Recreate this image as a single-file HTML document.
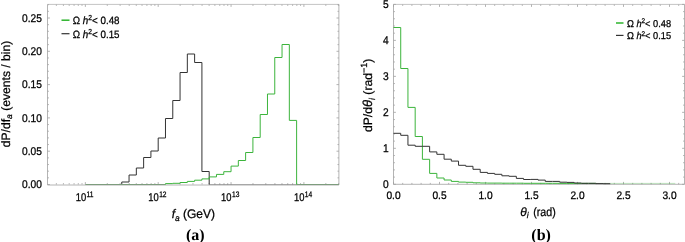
<!DOCTYPE html>
<html><head><meta charset="utf-8"><title>figure</title>
<style>
html,body{margin:0;padding:0;background:#fff;}
body{width:685px;height:242px;overflow:hidden;}
svg{display:block;will-change:transform;}
text{font-family:"Liberation Sans",sans-serif;fill:#000;text-rendering:geometricPrecision;stroke:#000;stroke-width:0.25px;}
text.serif{font-family:"Liberation Serif",serif;stroke:none;}
</style></head><body>
<svg width="685" height="242" viewBox="0 0 685 242">
<line x1="47.50" y1="4.40" x2="47.50" y2="185.00" stroke="#b4b4b4" stroke-width="1.0"/>
<line x1="47.50" y1="4.40" x2="338.90" y2="4.40" stroke="#c4c4c4" stroke-width="1.0"/>
<line x1="47.50" y1="185.00" x2="338.90" y2="185.00" stroke="#b4b4b4" stroke-width="1.0"/>
<line x1="338.90" y1="4.40" x2="338.90" y2="185.00" stroke="#b4b4b4" stroke-width="1.0"/>
<line x1="56.36" y1="184.50" x2="56.36" y2="183.10" stroke="#a0a0a0" stroke-width="0.8"/>
<line x1="56.36" y1="4.50" x2="56.36" y2="5.90" stroke="#a0a0a0" stroke-width="0.8"/>
<line x1="63.42" y1="184.50" x2="63.42" y2="183.10" stroke="#a0a0a0" stroke-width="0.8"/>
<line x1="63.42" y1="4.50" x2="63.42" y2="5.90" stroke="#a0a0a0" stroke-width="0.8"/>
<line x1="69.19" y1="184.50" x2="69.19" y2="183.10" stroke="#a0a0a0" stroke-width="0.8"/>
<line x1="69.19" y1="4.50" x2="69.19" y2="5.90" stroke="#a0a0a0" stroke-width="0.8"/>
<line x1="74.07" y1="184.50" x2="74.07" y2="183.10" stroke="#a0a0a0" stroke-width="0.8"/>
<line x1="74.07" y1="4.50" x2="74.07" y2="5.90" stroke="#a0a0a0" stroke-width="0.8"/>
<line x1="78.29" y1="184.50" x2="78.29" y2="183.10" stroke="#a0a0a0" stroke-width="0.8"/>
<line x1="78.29" y1="4.50" x2="78.29" y2="5.90" stroke="#a0a0a0" stroke-width="0.8"/>
<line x1="82.02" y1="184.50" x2="82.02" y2="183.10" stroke="#a0a0a0" stroke-width="0.8"/>
<line x1="82.02" y1="4.50" x2="82.02" y2="5.90" stroke="#a0a0a0" stroke-width="0.8"/>
<line x1="85.35" y1="184.50" x2="85.35" y2="182.10" stroke="#a0a0a0" stroke-width="0.8"/>
<line x1="85.35" y1="4.50" x2="85.35" y2="6.90" stroke="#a0a0a0" stroke-width="0.8"/>
<line x1="107.28" y1="184.50" x2="107.28" y2="183.10" stroke="#a0a0a0" stroke-width="0.8"/>
<line x1="107.28" y1="4.50" x2="107.28" y2="5.90" stroke="#a0a0a0" stroke-width="0.8"/>
<line x1="120.11" y1="184.50" x2="120.11" y2="183.10" stroke="#a0a0a0" stroke-width="0.8"/>
<line x1="120.11" y1="4.50" x2="120.11" y2="5.90" stroke="#a0a0a0" stroke-width="0.8"/>
<line x1="129.21" y1="184.50" x2="129.21" y2="183.10" stroke="#a0a0a0" stroke-width="0.8"/>
<line x1="129.21" y1="4.50" x2="129.21" y2="5.90" stroke="#a0a0a0" stroke-width="0.8"/>
<line x1="136.27" y1="184.50" x2="136.27" y2="183.10" stroke="#a0a0a0" stroke-width="0.8"/>
<line x1="136.27" y1="4.50" x2="136.27" y2="5.90" stroke="#a0a0a0" stroke-width="0.8"/>
<line x1="142.04" y1="184.50" x2="142.04" y2="183.10" stroke="#a0a0a0" stroke-width="0.8"/>
<line x1="142.04" y1="4.50" x2="142.04" y2="5.90" stroke="#a0a0a0" stroke-width="0.8"/>
<line x1="146.92" y1="184.50" x2="146.92" y2="183.10" stroke="#a0a0a0" stroke-width="0.8"/>
<line x1="146.92" y1="4.50" x2="146.92" y2="5.90" stroke="#a0a0a0" stroke-width="0.8"/>
<line x1="151.14" y1="184.50" x2="151.14" y2="183.10" stroke="#a0a0a0" stroke-width="0.8"/>
<line x1="151.14" y1="4.50" x2="151.14" y2="5.90" stroke="#a0a0a0" stroke-width="0.8"/>
<line x1="154.87" y1="184.50" x2="154.87" y2="183.10" stroke="#a0a0a0" stroke-width="0.8"/>
<line x1="154.87" y1="4.50" x2="154.87" y2="5.90" stroke="#a0a0a0" stroke-width="0.8"/>
<line x1="158.20" y1="184.50" x2="158.20" y2="182.10" stroke="#a0a0a0" stroke-width="0.8"/>
<line x1="158.20" y1="4.50" x2="158.20" y2="6.90" stroke="#a0a0a0" stroke-width="0.8"/>
<line x1="180.13" y1="184.50" x2="180.13" y2="183.10" stroke="#a0a0a0" stroke-width="0.8"/>
<line x1="180.13" y1="4.50" x2="180.13" y2="5.90" stroke="#a0a0a0" stroke-width="0.8"/>
<line x1="192.96" y1="184.50" x2="192.96" y2="183.10" stroke="#a0a0a0" stroke-width="0.8"/>
<line x1="192.96" y1="4.50" x2="192.96" y2="5.90" stroke="#a0a0a0" stroke-width="0.8"/>
<line x1="202.06" y1="184.50" x2="202.06" y2="183.10" stroke="#a0a0a0" stroke-width="0.8"/>
<line x1="202.06" y1="4.50" x2="202.06" y2="5.90" stroke="#a0a0a0" stroke-width="0.8"/>
<line x1="209.12" y1="184.50" x2="209.12" y2="183.10" stroke="#a0a0a0" stroke-width="0.8"/>
<line x1="209.12" y1="4.50" x2="209.12" y2="5.90" stroke="#a0a0a0" stroke-width="0.8"/>
<line x1="214.89" y1="184.50" x2="214.89" y2="183.10" stroke="#a0a0a0" stroke-width="0.8"/>
<line x1="214.89" y1="4.50" x2="214.89" y2="5.90" stroke="#a0a0a0" stroke-width="0.8"/>
<line x1="219.77" y1="184.50" x2="219.77" y2="183.10" stroke="#a0a0a0" stroke-width="0.8"/>
<line x1="219.77" y1="4.50" x2="219.77" y2="5.90" stroke="#a0a0a0" stroke-width="0.8"/>
<line x1="223.99" y1="184.50" x2="223.99" y2="183.10" stroke="#a0a0a0" stroke-width="0.8"/>
<line x1="223.99" y1="4.50" x2="223.99" y2="5.90" stroke="#a0a0a0" stroke-width="0.8"/>
<line x1="227.72" y1="184.50" x2="227.72" y2="183.10" stroke="#a0a0a0" stroke-width="0.8"/>
<line x1="227.72" y1="4.50" x2="227.72" y2="5.90" stroke="#a0a0a0" stroke-width="0.8"/>
<line x1="231.05" y1="184.50" x2="231.05" y2="182.10" stroke="#a0a0a0" stroke-width="0.8"/>
<line x1="231.05" y1="4.50" x2="231.05" y2="6.90" stroke="#a0a0a0" stroke-width="0.8"/>
<line x1="252.98" y1="184.50" x2="252.98" y2="183.10" stroke="#a0a0a0" stroke-width="0.8"/>
<line x1="252.98" y1="4.50" x2="252.98" y2="5.90" stroke="#a0a0a0" stroke-width="0.8"/>
<line x1="265.81" y1="184.50" x2="265.81" y2="183.10" stroke="#a0a0a0" stroke-width="0.8"/>
<line x1="265.81" y1="4.50" x2="265.81" y2="5.90" stroke="#a0a0a0" stroke-width="0.8"/>
<line x1="274.91" y1="184.50" x2="274.91" y2="183.10" stroke="#a0a0a0" stroke-width="0.8"/>
<line x1="274.91" y1="4.50" x2="274.91" y2="5.90" stroke="#a0a0a0" stroke-width="0.8"/>
<line x1="281.97" y1="184.50" x2="281.97" y2="183.10" stroke="#a0a0a0" stroke-width="0.8"/>
<line x1="281.97" y1="4.50" x2="281.97" y2="5.90" stroke="#a0a0a0" stroke-width="0.8"/>
<line x1="287.74" y1="184.50" x2="287.74" y2="183.10" stroke="#a0a0a0" stroke-width="0.8"/>
<line x1="287.74" y1="4.50" x2="287.74" y2="5.90" stroke="#a0a0a0" stroke-width="0.8"/>
<line x1="292.62" y1="184.50" x2="292.62" y2="183.10" stroke="#a0a0a0" stroke-width="0.8"/>
<line x1="292.62" y1="4.50" x2="292.62" y2="5.90" stroke="#a0a0a0" stroke-width="0.8"/>
<line x1="296.84" y1="184.50" x2="296.84" y2="183.10" stroke="#a0a0a0" stroke-width="0.8"/>
<line x1="296.84" y1="4.50" x2="296.84" y2="5.90" stroke="#a0a0a0" stroke-width="0.8"/>
<line x1="300.57" y1="184.50" x2="300.57" y2="183.10" stroke="#a0a0a0" stroke-width="0.8"/>
<line x1="300.57" y1="4.50" x2="300.57" y2="5.90" stroke="#a0a0a0" stroke-width="0.8"/>
<line x1="303.90" y1="184.50" x2="303.90" y2="182.10" stroke="#a0a0a0" stroke-width="0.8"/>
<line x1="303.90" y1="4.50" x2="303.90" y2="6.90" stroke="#a0a0a0" stroke-width="0.8"/>
<line x1="325.83" y1="184.50" x2="325.83" y2="183.10" stroke="#a0a0a0" stroke-width="0.8"/>
<line x1="325.83" y1="4.50" x2="325.83" y2="5.90" stroke="#a0a0a0" stroke-width="0.8"/>
<line x1="338.66" y1="184.50" x2="338.66" y2="183.10" stroke="#a0a0a0" stroke-width="0.8"/>
<line x1="338.66" y1="4.50" x2="338.66" y2="5.90" stroke="#a0a0a0" stroke-width="0.8"/>
<line x1="47.50" y1="184.50" x2="49.90" y2="184.50" stroke="#a0a0a0" stroke-width="0.8"/>
<line x1="338.90" y1="184.50" x2="336.50" y2="184.50" stroke="#a0a0a0" stroke-width="0.8"/>
<line x1="47.50" y1="177.84" x2="48.90" y2="177.84" stroke="#a0a0a0" stroke-width="0.8"/>
<line x1="338.90" y1="177.84" x2="337.50" y2="177.84" stroke="#a0a0a0" stroke-width="0.8"/>
<line x1="47.50" y1="171.18" x2="48.90" y2="171.18" stroke="#a0a0a0" stroke-width="0.8"/>
<line x1="338.90" y1="171.18" x2="337.50" y2="171.18" stroke="#a0a0a0" stroke-width="0.8"/>
<line x1="47.50" y1="164.52" x2="48.90" y2="164.52" stroke="#a0a0a0" stroke-width="0.8"/>
<line x1="338.90" y1="164.52" x2="337.50" y2="164.52" stroke="#a0a0a0" stroke-width="0.8"/>
<line x1="47.50" y1="157.86" x2="48.90" y2="157.86" stroke="#a0a0a0" stroke-width="0.8"/>
<line x1="338.90" y1="157.86" x2="337.50" y2="157.86" stroke="#a0a0a0" stroke-width="0.8"/>
<line x1="47.50" y1="151.20" x2="49.90" y2="151.20" stroke="#a0a0a0" stroke-width="0.8"/>
<line x1="338.90" y1="151.20" x2="336.50" y2="151.20" stroke="#a0a0a0" stroke-width="0.8"/>
<line x1="47.50" y1="144.54" x2="48.90" y2="144.54" stroke="#a0a0a0" stroke-width="0.8"/>
<line x1="338.90" y1="144.54" x2="337.50" y2="144.54" stroke="#a0a0a0" stroke-width="0.8"/>
<line x1="47.50" y1="137.88" x2="48.90" y2="137.88" stroke="#a0a0a0" stroke-width="0.8"/>
<line x1="338.90" y1="137.88" x2="337.50" y2="137.88" stroke="#a0a0a0" stroke-width="0.8"/>
<line x1="47.50" y1="131.22" x2="48.90" y2="131.22" stroke="#a0a0a0" stroke-width="0.8"/>
<line x1="338.90" y1="131.22" x2="337.50" y2="131.22" stroke="#a0a0a0" stroke-width="0.8"/>
<line x1="47.50" y1="124.56" x2="48.90" y2="124.56" stroke="#a0a0a0" stroke-width="0.8"/>
<line x1="338.90" y1="124.56" x2="337.50" y2="124.56" stroke="#a0a0a0" stroke-width="0.8"/>
<line x1="47.50" y1="117.90" x2="49.90" y2="117.90" stroke="#a0a0a0" stroke-width="0.8"/>
<line x1="338.90" y1="117.90" x2="336.50" y2="117.90" stroke="#a0a0a0" stroke-width="0.8"/>
<line x1="47.50" y1="111.24" x2="48.90" y2="111.24" stroke="#a0a0a0" stroke-width="0.8"/>
<line x1="338.90" y1="111.24" x2="337.50" y2="111.24" stroke="#a0a0a0" stroke-width="0.8"/>
<line x1="47.50" y1="104.58" x2="48.90" y2="104.58" stroke="#a0a0a0" stroke-width="0.8"/>
<line x1="338.90" y1="104.58" x2="337.50" y2="104.58" stroke="#a0a0a0" stroke-width="0.8"/>
<line x1="47.50" y1="97.92" x2="48.90" y2="97.92" stroke="#a0a0a0" stroke-width="0.8"/>
<line x1="338.90" y1="97.92" x2="337.50" y2="97.92" stroke="#a0a0a0" stroke-width="0.8"/>
<line x1="47.50" y1="91.26" x2="48.90" y2="91.26" stroke="#a0a0a0" stroke-width="0.8"/>
<line x1="338.90" y1="91.26" x2="337.50" y2="91.26" stroke="#a0a0a0" stroke-width="0.8"/>
<line x1="47.50" y1="84.60" x2="49.90" y2="84.60" stroke="#a0a0a0" stroke-width="0.8"/>
<line x1="338.90" y1="84.60" x2="336.50" y2="84.60" stroke="#a0a0a0" stroke-width="0.8"/>
<line x1="47.50" y1="77.94" x2="48.90" y2="77.94" stroke="#a0a0a0" stroke-width="0.8"/>
<line x1="338.90" y1="77.94" x2="337.50" y2="77.94" stroke="#a0a0a0" stroke-width="0.8"/>
<line x1="47.50" y1="71.28" x2="48.90" y2="71.28" stroke="#a0a0a0" stroke-width="0.8"/>
<line x1="338.90" y1="71.28" x2="337.50" y2="71.28" stroke="#a0a0a0" stroke-width="0.8"/>
<line x1="47.50" y1="64.62" x2="48.90" y2="64.62" stroke="#a0a0a0" stroke-width="0.8"/>
<line x1="338.90" y1="64.62" x2="337.50" y2="64.62" stroke="#a0a0a0" stroke-width="0.8"/>
<line x1="47.50" y1="57.96" x2="48.90" y2="57.96" stroke="#a0a0a0" stroke-width="0.8"/>
<line x1="338.90" y1="57.96" x2="337.50" y2="57.96" stroke="#a0a0a0" stroke-width="0.8"/>
<line x1="47.50" y1="51.30" x2="49.90" y2="51.30" stroke="#a0a0a0" stroke-width="0.8"/>
<line x1="338.90" y1="51.30" x2="336.50" y2="51.30" stroke="#a0a0a0" stroke-width="0.8"/>
<line x1="47.50" y1="44.64" x2="48.90" y2="44.64" stroke="#a0a0a0" stroke-width="0.8"/>
<line x1="338.90" y1="44.64" x2="337.50" y2="44.64" stroke="#a0a0a0" stroke-width="0.8"/>
<line x1="47.50" y1="37.98" x2="48.90" y2="37.98" stroke="#a0a0a0" stroke-width="0.8"/>
<line x1="338.90" y1="37.98" x2="337.50" y2="37.98" stroke="#a0a0a0" stroke-width="0.8"/>
<line x1="47.50" y1="31.32" x2="48.90" y2="31.32" stroke="#a0a0a0" stroke-width="0.8"/>
<line x1="338.90" y1="31.32" x2="337.50" y2="31.32" stroke="#a0a0a0" stroke-width="0.8"/>
<line x1="47.50" y1="24.66" x2="48.90" y2="24.66" stroke="#a0a0a0" stroke-width="0.8"/>
<line x1="338.90" y1="24.66" x2="337.50" y2="24.66" stroke="#a0a0a0" stroke-width="0.8"/>
<line x1="47.50" y1="18.00" x2="49.90" y2="18.00" stroke="#a0a0a0" stroke-width="0.8"/>
<line x1="338.90" y1="18.00" x2="336.50" y2="18.00" stroke="#a0a0a0" stroke-width="0.8"/>
<line x1="47.50" y1="11.34" x2="48.90" y2="11.34" stroke="#a0a0a0" stroke-width="0.8"/>
<line x1="338.90" y1="11.34" x2="337.50" y2="11.34" stroke="#a0a0a0" stroke-width="0.8"/>
<line x1="47.50" y1="4.68" x2="48.90" y2="4.68" stroke="#a0a0a0" stroke-width="0.8"/>
<line x1="338.90" y1="4.68" x2="337.50" y2="4.68" stroke="#a0a0a0" stroke-width="0.8"/>
<line x1="209.19" y1="184.5" x2="296.62" y2="184.5" stroke="#333333" stroke-width="1.0" stroke-opacity="0.3"/>
<path d="M121.77,184.50 L121.77,182.00 L129.06,182.00 L129.06,175.00 L136.34,175.00 L136.34,168.00 L143.63,168.00 L143.63,157.50 L150.92,157.50 L150.92,151.00 L158.20,151.00 L158.20,138.00 L165.48,138.00 L165.48,118.50 L172.77,118.50 L172.77,100.50 L180.06,100.50 L180.06,72.50 L187.34,72.50 L187.34,54.00 L194.62,54.00 L194.62,62.50 L201.91,62.50 L201.91,171.50 L209.19,171.50 L209.19,184.50" fill="none" stroke="#333333" stroke-width="1.0" stroke-linejoin="miter"/>
<line x1="85.35" y1="184.50" x2="165.48" y2="184.50" stroke="#7d9d7d" stroke-width="1.0"/>
<line x1="296.62" y1="184.50" x2="338.90" y2="184.50" stroke="#7d9d7d" stroke-width="1.0"/>
<path d="M165.48,184.50 L165.48,183.60 L172.77,183.60 L172.77,183.30 L180.06,183.30 L180.06,182.50 L187.34,182.50 L187.34,181.40 L194.62,181.40 L194.62,180.20 L201.91,180.20 L201.91,178.90 L209.19,178.90 L209.19,176.90 L216.48,176.90 L216.48,174.40 L223.77,174.40 L223.77,171.70 L231.05,171.70 L231.05,166.10 L238.33,166.10 L238.33,160.50 L245.62,160.50 L245.62,152.50 L252.91,152.50 L252.91,137.50 L260.19,137.50 L260.19,114.50 L267.48,114.50 L267.48,94.00 L274.76,94.00 L274.76,57.50 L282.04,57.50 L282.04,44.50 L289.33,44.50 L289.33,120.40 L296.62,120.40 L296.62,184.50" fill="none" stroke="#3cb43c" stroke-width="1.0" stroke-linejoin="miter"/>
<line x1="393.50" y1="4.40" x2="393.50" y2="184.30" stroke="#b4b4b4" stroke-width="1.0"/>
<line x1="393.50" y1="4.40" x2="684.50" y2="4.40" stroke="#c4c4c4" stroke-width="1.0"/>
<line x1="393.50" y1="184.30" x2="684.50" y2="184.30" stroke="#b4b4b4" stroke-width="1.0"/>
<line x1="684.50" y1="4.40" x2="684.50" y2="184.30" stroke="#b4b4b4" stroke-width="1.0"/>
<line x1="393.50" y1="184.30" x2="393.50" y2="181.90" stroke="#a0a0a0" stroke-width="0.8"/>
<line x1="393.50" y1="4.50" x2="393.50" y2="6.90" stroke="#a0a0a0" stroke-width="0.8"/>
<line x1="402.70" y1="184.30" x2="402.70" y2="182.90" stroke="#a0a0a0" stroke-width="0.8"/>
<line x1="402.70" y1="4.50" x2="402.70" y2="5.90" stroke="#a0a0a0" stroke-width="0.8"/>
<line x1="411.90" y1="184.30" x2="411.90" y2="182.90" stroke="#a0a0a0" stroke-width="0.8"/>
<line x1="411.90" y1="4.50" x2="411.90" y2="5.90" stroke="#a0a0a0" stroke-width="0.8"/>
<line x1="421.10" y1="184.30" x2="421.10" y2="182.90" stroke="#a0a0a0" stroke-width="0.8"/>
<line x1="421.10" y1="4.50" x2="421.10" y2="5.90" stroke="#a0a0a0" stroke-width="0.8"/>
<line x1="430.30" y1="184.30" x2="430.30" y2="182.90" stroke="#a0a0a0" stroke-width="0.8"/>
<line x1="430.30" y1="4.50" x2="430.30" y2="5.90" stroke="#a0a0a0" stroke-width="0.8"/>
<line x1="439.50" y1="184.30" x2="439.50" y2="181.90" stroke="#a0a0a0" stroke-width="0.8"/>
<line x1="439.50" y1="4.50" x2="439.50" y2="6.90" stroke="#a0a0a0" stroke-width="0.8"/>
<line x1="448.70" y1="184.30" x2="448.70" y2="182.90" stroke="#a0a0a0" stroke-width="0.8"/>
<line x1="448.70" y1="4.50" x2="448.70" y2="5.90" stroke="#a0a0a0" stroke-width="0.8"/>
<line x1="457.90" y1="184.30" x2="457.90" y2="182.90" stroke="#a0a0a0" stroke-width="0.8"/>
<line x1="457.90" y1="4.50" x2="457.90" y2="5.90" stroke="#a0a0a0" stroke-width="0.8"/>
<line x1="467.10" y1="184.30" x2="467.10" y2="182.90" stroke="#a0a0a0" stroke-width="0.8"/>
<line x1="467.10" y1="4.50" x2="467.10" y2="5.90" stroke="#a0a0a0" stroke-width="0.8"/>
<line x1="476.30" y1="184.30" x2="476.30" y2="182.90" stroke="#a0a0a0" stroke-width="0.8"/>
<line x1="476.30" y1="4.50" x2="476.30" y2="5.90" stroke="#a0a0a0" stroke-width="0.8"/>
<line x1="485.50" y1="184.30" x2="485.50" y2="181.90" stroke="#a0a0a0" stroke-width="0.8"/>
<line x1="485.50" y1="4.50" x2="485.50" y2="6.90" stroke="#a0a0a0" stroke-width="0.8"/>
<line x1="494.70" y1="184.30" x2="494.70" y2="182.90" stroke="#a0a0a0" stroke-width="0.8"/>
<line x1="494.70" y1="4.50" x2="494.70" y2="5.90" stroke="#a0a0a0" stroke-width="0.8"/>
<line x1="503.90" y1="184.30" x2="503.90" y2="182.90" stroke="#a0a0a0" stroke-width="0.8"/>
<line x1="503.90" y1="4.50" x2="503.90" y2="5.90" stroke="#a0a0a0" stroke-width="0.8"/>
<line x1="513.10" y1="184.30" x2="513.10" y2="182.90" stroke="#a0a0a0" stroke-width="0.8"/>
<line x1="513.10" y1="4.50" x2="513.10" y2="5.90" stroke="#a0a0a0" stroke-width="0.8"/>
<line x1="522.30" y1="184.30" x2="522.30" y2="182.90" stroke="#a0a0a0" stroke-width="0.8"/>
<line x1="522.30" y1="4.50" x2="522.30" y2="5.90" stroke="#a0a0a0" stroke-width="0.8"/>
<line x1="531.50" y1="184.30" x2="531.50" y2="181.90" stroke="#a0a0a0" stroke-width="0.8"/>
<line x1="531.50" y1="4.50" x2="531.50" y2="6.90" stroke="#a0a0a0" stroke-width="0.8"/>
<line x1="540.70" y1="184.30" x2="540.70" y2="182.90" stroke="#a0a0a0" stroke-width="0.8"/>
<line x1="540.70" y1="4.50" x2="540.70" y2="5.90" stroke="#a0a0a0" stroke-width="0.8"/>
<line x1="549.90" y1="184.30" x2="549.90" y2="182.90" stroke="#a0a0a0" stroke-width="0.8"/>
<line x1="549.90" y1="4.50" x2="549.90" y2="5.90" stroke="#a0a0a0" stroke-width="0.8"/>
<line x1="559.10" y1="184.30" x2="559.10" y2="182.90" stroke="#a0a0a0" stroke-width="0.8"/>
<line x1="559.10" y1="4.50" x2="559.10" y2="5.90" stroke="#a0a0a0" stroke-width="0.8"/>
<line x1="568.30" y1="184.30" x2="568.30" y2="182.90" stroke="#a0a0a0" stroke-width="0.8"/>
<line x1="568.30" y1="4.50" x2="568.30" y2="5.90" stroke="#a0a0a0" stroke-width="0.8"/>
<line x1="577.50" y1="184.30" x2="577.50" y2="181.90" stroke="#a0a0a0" stroke-width="0.8"/>
<line x1="577.50" y1="4.50" x2="577.50" y2="6.90" stroke="#a0a0a0" stroke-width="0.8"/>
<line x1="586.70" y1="184.30" x2="586.70" y2="182.90" stroke="#a0a0a0" stroke-width="0.8"/>
<line x1="586.70" y1="4.50" x2="586.70" y2="5.90" stroke="#a0a0a0" stroke-width="0.8"/>
<line x1="595.90" y1="184.30" x2="595.90" y2="182.90" stroke="#a0a0a0" stroke-width="0.8"/>
<line x1="595.90" y1="4.50" x2="595.90" y2="5.90" stroke="#a0a0a0" stroke-width="0.8"/>
<line x1="605.10" y1="184.30" x2="605.10" y2="182.90" stroke="#a0a0a0" stroke-width="0.8"/>
<line x1="605.10" y1="4.50" x2="605.10" y2="5.90" stroke="#a0a0a0" stroke-width="0.8"/>
<line x1="614.30" y1="184.30" x2="614.30" y2="182.90" stroke="#a0a0a0" stroke-width="0.8"/>
<line x1="614.30" y1="4.50" x2="614.30" y2="5.90" stroke="#a0a0a0" stroke-width="0.8"/>
<line x1="623.50" y1="184.30" x2="623.50" y2="181.90" stroke="#a0a0a0" stroke-width="0.8"/>
<line x1="623.50" y1="4.50" x2="623.50" y2="6.90" stroke="#a0a0a0" stroke-width="0.8"/>
<line x1="632.70" y1="184.30" x2="632.70" y2="182.90" stroke="#a0a0a0" stroke-width="0.8"/>
<line x1="632.70" y1="4.50" x2="632.70" y2="5.90" stroke="#a0a0a0" stroke-width="0.8"/>
<line x1="641.90" y1="184.30" x2="641.90" y2="182.90" stroke="#a0a0a0" stroke-width="0.8"/>
<line x1="641.90" y1="4.50" x2="641.90" y2="5.90" stroke="#a0a0a0" stroke-width="0.8"/>
<line x1="651.10" y1="184.30" x2="651.10" y2="182.90" stroke="#a0a0a0" stroke-width="0.8"/>
<line x1="651.10" y1="4.50" x2="651.10" y2="5.90" stroke="#a0a0a0" stroke-width="0.8"/>
<line x1="660.30" y1="184.30" x2="660.30" y2="182.90" stroke="#a0a0a0" stroke-width="0.8"/>
<line x1="660.30" y1="4.50" x2="660.30" y2="5.90" stroke="#a0a0a0" stroke-width="0.8"/>
<line x1="669.50" y1="184.30" x2="669.50" y2="181.90" stroke="#a0a0a0" stroke-width="0.8"/>
<line x1="669.50" y1="4.50" x2="669.50" y2="6.90" stroke="#a0a0a0" stroke-width="0.8"/>
<line x1="678.70" y1="184.30" x2="678.70" y2="182.90" stroke="#a0a0a0" stroke-width="0.8"/>
<line x1="678.70" y1="4.50" x2="678.70" y2="5.90" stroke="#a0a0a0" stroke-width="0.8"/>
<line x1="393.50" y1="184.30" x2="395.90" y2="184.30" stroke="#a0a0a0" stroke-width="0.8"/>
<line x1="684.50" y1="184.30" x2="682.10" y2="184.30" stroke="#a0a0a0" stroke-width="0.8"/>
<line x1="393.50" y1="177.10" x2="394.90" y2="177.10" stroke="#a0a0a0" stroke-width="0.8"/>
<line x1="684.50" y1="177.10" x2="683.10" y2="177.10" stroke="#a0a0a0" stroke-width="0.8"/>
<line x1="393.50" y1="169.91" x2="394.90" y2="169.91" stroke="#a0a0a0" stroke-width="0.8"/>
<line x1="684.50" y1="169.91" x2="683.10" y2="169.91" stroke="#a0a0a0" stroke-width="0.8"/>
<line x1="393.50" y1="162.71" x2="394.90" y2="162.71" stroke="#a0a0a0" stroke-width="0.8"/>
<line x1="684.50" y1="162.71" x2="683.10" y2="162.71" stroke="#a0a0a0" stroke-width="0.8"/>
<line x1="393.50" y1="155.52" x2="394.90" y2="155.52" stroke="#a0a0a0" stroke-width="0.8"/>
<line x1="684.50" y1="155.52" x2="683.10" y2="155.52" stroke="#a0a0a0" stroke-width="0.8"/>
<line x1="393.50" y1="148.32" x2="395.90" y2="148.32" stroke="#a0a0a0" stroke-width="0.8"/>
<line x1="684.50" y1="148.32" x2="682.10" y2="148.32" stroke="#a0a0a0" stroke-width="0.8"/>
<line x1="393.50" y1="141.12" x2="394.90" y2="141.12" stroke="#a0a0a0" stroke-width="0.8"/>
<line x1="684.50" y1="141.12" x2="683.10" y2="141.12" stroke="#a0a0a0" stroke-width="0.8"/>
<line x1="393.50" y1="133.93" x2="394.90" y2="133.93" stroke="#a0a0a0" stroke-width="0.8"/>
<line x1="684.50" y1="133.93" x2="683.10" y2="133.93" stroke="#a0a0a0" stroke-width="0.8"/>
<line x1="393.50" y1="126.73" x2="394.90" y2="126.73" stroke="#a0a0a0" stroke-width="0.8"/>
<line x1="684.50" y1="126.73" x2="683.10" y2="126.73" stroke="#a0a0a0" stroke-width="0.8"/>
<line x1="393.50" y1="119.54" x2="394.90" y2="119.54" stroke="#a0a0a0" stroke-width="0.8"/>
<line x1="684.50" y1="119.54" x2="683.10" y2="119.54" stroke="#a0a0a0" stroke-width="0.8"/>
<line x1="393.50" y1="112.34" x2="395.90" y2="112.34" stroke="#a0a0a0" stroke-width="0.8"/>
<line x1="684.50" y1="112.34" x2="682.10" y2="112.34" stroke="#a0a0a0" stroke-width="0.8"/>
<line x1="393.50" y1="105.14" x2="394.90" y2="105.14" stroke="#a0a0a0" stroke-width="0.8"/>
<line x1="684.50" y1="105.14" x2="683.10" y2="105.14" stroke="#a0a0a0" stroke-width="0.8"/>
<line x1="393.50" y1="97.95" x2="394.90" y2="97.95" stroke="#a0a0a0" stroke-width="0.8"/>
<line x1="684.50" y1="97.95" x2="683.10" y2="97.95" stroke="#a0a0a0" stroke-width="0.8"/>
<line x1="393.50" y1="90.75" x2="394.90" y2="90.75" stroke="#a0a0a0" stroke-width="0.8"/>
<line x1="684.50" y1="90.75" x2="683.10" y2="90.75" stroke="#a0a0a0" stroke-width="0.8"/>
<line x1="393.50" y1="83.56" x2="394.90" y2="83.56" stroke="#a0a0a0" stroke-width="0.8"/>
<line x1="684.50" y1="83.56" x2="683.10" y2="83.56" stroke="#a0a0a0" stroke-width="0.8"/>
<line x1="393.50" y1="76.36" x2="395.90" y2="76.36" stroke="#a0a0a0" stroke-width="0.8"/>
<line x1="684.50" y1="76.36" x2="682.10" y2="76.36" stroke="#a0a0a0" stroke-width="0.8"/>
<line x1="393.50" y1="69.16" x2="394.90" y2="69.16" stroke="#a0a0a0" stroke-width="0.8"/>
<line x1="684.50" y1="69.16" x2="683.10" y2="69.16" stroke="#a0a0a0" stroke-width="0.8"/>
<line x1="393.50" y1="61.97" x2="394.90" y2="61.97" stroke="#a0a0a0" stroke-width="0.8"/>
<line x1="684.50" y1="61.97" x2="683.10" y2="61.97" stroke="#a0a0a0" stroke-width="0.8"/>
<line x1="393.50" y1="54.77" x2="394.90" y2="54.77" stroke="#a0a0a0" stroke-width="0.8"/>
<line x1="684.50" y1="54.77" x2="683.10" y2="54.77" stroke="#a0a0a0" stroke-width="0.8"/>
<line x1="393.50" y1="47.58" x2="394.90" y2="47.58" stroke="#a0a0a0" stroke-width="0.8"/>
<line x1="684.50" y1="47.58" x2="683.10" y2="47.58" stroke="#a0a0a0" stroke-width="0.8"/>
<line x1="393.50" y1="40.38" x2="395.90" y2="40.38" stroke="#a0a0a0" stroke-width="0.8"/>
<line x1="684.50" y1="40.38" x2="682.10" y2="40.38" stroke="#a0a0a0" stroke-width="0.8"/>
<line x1="393.50" y1="33.18" x2="394.90" y2="33.18" stroke="#a0a0a0" stroke-width="0.8"/>
<line x1="684.50" y1="33.18" x2="683.10" y2="33.18" stroke="#a0a0a0" stroke-width="0.8"/>
<line x1="393.50" y1="25.99" x2="394.90" y2="25.99" stroke="#a0a0a0" stroke-width="0.8"/>
<line x1="684.50" y1="25.99" x2="683.10" y2="25.99" stroke="#a0a0a0" stroke-width="0.8"/>
<line x1="393.50" y1="18.79" x2="394.90" y2="18.79" stroke="#a0a0a0" stroke-width="0.8"/>
<line x1="684.50" y1="18.79" x2="683.10" y2="18.79" stroke="#a0a0a0" stroke-width="0.8"/>
<line x1="393.50" y1="11.60" x2="394.90" y2="11.60" stroke="#a0a0a0" stroke-width="0.8"/>
<line x1="684.50" y1="11.60" x2="683.10" y2="11.60" stroke="#a0a0a0" stroke-width="0.8"/>
<line x1="393.50" y1="4.40" x2="395.90" y2="4.40" stroke="#a0a0a0" stroke-width="0.8"/>
<line x1="684.50" y1="4.40" x2="682.10" y2="4.40" stroke="#a0a0a0" stroke-width="0.8"/>
<path d="M393.50,27.50 L400.73,27.50 L400.73,68.50 L407.95,68.50 L407.95,107.40 L415.18,107.40 L415.18,136.50 L422.40,136.50 L422.40,159.30 L429.63,159.30 L429.63,173.40 L436.85,173.40 L436.85,178.00 L444.08,178.00 L444.08,180.00 L451.31,180.00 L451.31,181.40 L458.53,181.40 L458.53,182.10 L465.76,182.10 L465.76,182.30 L472.98,182.30 L472.98,182.80 L480.21,182.80 L480.21,183.00 L487.43,183.00 L487.43,183.10 L494.66,183.10 L494.66,183.10 L501.88,183.10 L501.88,183.20 L509.11,183.20 L509.11,183.20 L516.34,183.20 L516.34,183.20 L523.56,183.20 L523.56,183.30 L530.79,183.30 L530.79,183.30 L538.01,183.30 L538.01,183.30 L545.24,183.30 L545.24,183.30 L552.46,183.30 L552.46,183.30 L559.69,183.30 L559.69,183.40 L566.92,183.40 L566.92,183.40 L574.14,183.40 L574.14,183.40 L581.37,183.40 L581.37,183.40 L588.59,183.40 L588.59,183.40 L595.82,183.40 L595.82,183.40" fill="none" stroke="#3cb43c" stroke-width="1.0" stroke-linejoin="miter"/>
<line x1="595.82" y1="183.4" x2="675.30" y2="183.4" stroke="#3cb43c" stroke-width="1.0" stroke-opacity="0.3"/>
<path d="M393.50,133.30 L400.73,133.30 L400.73,135.30 L407.95,135.30 L407.95,145.20 L415.18,145.20 L415.18,146.30 L422.40,146.30 L422.40,146.30 L429.63,146.30 L429.63,151.90 L436.85,151.90 L436.85,154.30 L444.08,154.30 L444.08,159.20 L451.31,159.20 L451.31,161.10 L458.53,161.10 L458.53,165.30 L465.76,165.30 L465.76,166.30 L472.98,166.30 L472.98,169.30 L480.21,169.30 L480.21,172.40 L487.43,172.40 L487.43,173.40 L494.66,173.40 L494.66,174.30 L501.88,174.30 L501.88,175.80 L509.11,175.80 L509.11,176.30 L516.34,176.30 L516.34,178.40 L523.56,178.40 L523.56,179.50 L530.79,179.50 L530.79,179.40 L538.01,179.40 L538.01,180.10 L545.24,180.10 L545.24,181.40 L552.46,181.40 L552.46,181.40 L559.69,181.40 L559.69,182.20 L566.92,182.20 L566.92,182.40 L574.14,182.40 L574.14,183.00 L581.37,183.00 L581.37,183.30 L588.59,183.30 L588.59,183.30 L595.82,183.30 L595.82,183.60 L603.04,183.60 L603.04,183.70 L610.27,183.70 L610.27,183.70" fill="none" stroke="#333333" stroke-width="1.0" stroke-linejoin="miter"/>
<line x1="61.50" y1="20.20" x2="69.50" y2="20.20" stroke="#2db42d" stroke-width="1.5"/>
<line x1="61.50" y1="33.70" x2="69.50" y2="33.70" stroke="#333333" stroke-width="1.2"/>
<line x1="616.00" y1="23.00" x2="623.50" y2="23.00" stroke="#2db42d" stroke-width="1.5"/>
<line x1="616.00" y1="35.40" x2="623.50" y2="35.40" stroke="#333333" stroke-width="1.2"/>
<text transform="translate(41.80,188.20) scale(1.0,1.1)" font-size="10.2" text-anchor="end">0.00</text>
<text transform="translate(41.80,154.90) scale(1.0,1.1)" font-size="10.2" text-anchor="end">0.05</text>
<text transform="translate(41.80,121.60) scale(1.0,1.1)" font-size="10.2" text-anchor="end">0.10</text>
<text transform="translate(41.80,88.30) scale(1.0,1.1)" font-size="10.2" text-anchor="end">0.15</text>
<text transform="translate(41.80,55.00) scale(1.0,1.1)" font-size="10.2" text-anchor="end">0.20</text>
<text transform="translate(41.80,21.70) scale(1.0,1.1)" font-size="10.2" text-anchor="end">0.25</text>
<text transform="translate(84.55,201.20) scale(0.92,1.1)" font-size="10.2" text-anchor="middle">10<tspan font-size="7.2" dy="-4.2" dx="0.5">11</tspan></text>
<text transform="translate(157.40,201.20) scale(0.92,1.1)" font-size="10.2" text-anchor="middle">10<tspan font-size="7.2" dy="-4.2" dx="0.5">12</tspan></text>
<text transform="translate(230.25,201.20) scale(0.92,1.1)" font-size="10.2" text-anchor="middle">10<tspan font-size="7.2" dy="-4.2" dx="0.5">13</tspan></text>
<text transform="translate(303.10,201.20) scale(0.92,1.1)" font-size="10.2" text-anchor="middle">10<tspan font-size="7.2" dy="-4.2" dx="0.5">14</tspan></text>
<text transform="translate(193.30,218.30) scale(1.0,1.04)" font-size="12" text-anchor="middle"><tspan font-style="italic">f</tspan><tspan font-size="8.4" dy="2.4" font-style="italic">a</tspan><tspan dy="-2.4"> (GeV)</tspan></text>
<text transform="translate(9.6,94.0) rotate(-90)" font-size="12.15" text-anchor="middle">dP/df<tspan font-size="8.5" dy="2.0" font-style="italic">a</tspan><tspan dy="-2.0"> (events / bin)</tspan></text>
<text transform="translate(72.80,23.80) scale(1.0,1.08)" font-size="9.8">Ω <tspan font-style="italic">h</tspan><tspan font-size="6.7" dy="-3.7">2</tspan><tspan dy="3.7">&lt; 0.48</tspan></text>
<text transform="translate(72.80,37.60) scale(1.0,1.08)" font-size="9.8">Ω <tspan font-style="italic">h</tspan><tspan font-size="6.7" dy="-3.7">2</tspan><tspan dy="3.7">&lt; 0.15</tspan></text>
<text transform="translate(388.60,187.80) scale(1.0,1.1)" font-size="10.2" text-anchor="end">0</text>
<text transform="translate(388.60,151.82) scale(1.0,1.1)" font-size="10.2" text-anchor="end">1</text>
<text transform="translate(388.60,115.84) scale(1.0,1.1)" font-size="10.2" text-anchor="end">2</text>
<text transform="translate(388.60,79.86) scale(1.0,1.1)" font-size="10.2" text-anchor="end">3</text>
<text transform="translate(388.60,43.88) scale(1.0,1.1)" font-size="10.2" text-anchor="end">4</text>
<text transform="translate(388.60,7.90) scale(1.0,1.1)" font-size="10.2" text-anchor="end">5</text>
<text transform="translate(393.50,199.10) scale(1.0,1.07)" font-size="10.2" text-anchor="middle">0.0</text>
<text transform="translate(439.50,199.10) scale(1.0,1.07)" font-size="10.2" text-anchor="middle">0.5</text>
<text transform="translate(485.50,199.10) scale(1.0,1.07)" font-size="10.2" text-anchor="middle">1.0</text>
<text transform="translate(531.50,199.10) scale(1.0,1.07)" font-size="10.2" text-anchor="middle">1.5</text>
<text transform="translate(577.50,199.10) scale(1.0,1.07)" font-size="10.2" text-anchor="middle">2.0</text>
<text transform="translate(623.50,199.10) scale(1.0,1.07)" font-size="10.2" text-anchor="middle">2.5</text>
<text transform="translate(669.50,199.10) scale(1.0,1.07)" font-size="10.2" text-anchor="middle">3.0</text>
<text x="520.30" y="215.90" font-size="12"><tspan font-style="italic">θ</tspan><tspan font-size="8.4" dy="2.4" font-style="italic">i</tspan></text>
<text transform="translate(533.20,215.90) scale(0.89,1.0)" font-size="12">(rad)</text>
<text transform="translate(372.3,95.35) rotate(-90)" font-size="12.2" text-anchor="middle">dP/d<tspan font-style="italic" font-size="13">θ</tspan><tspan font-size="8.5" dy="2.5" font-style="italic">i</tspan><tspan dy="-2.5"> (rad</tspan><tspan font-size="9" dy="-5.2">−1</tspan><tspan dy="5.2">)</tspan></text>
<text transform="translate(626.90,26.90) scale(1.0,1.08)" font-size="9.25">Ω <tspan font-style="italic">h</tspan><tspan font-size="6.4" dy="-3.4">2</tspan><tspan dy="3.4">&lt; 0.48</tspan></text>
<text transform="translate(626.90,39.40) scale(1.0,1.08)" font-size="9.25">Ω <tspan font-style="italic">h</tspan><tspan font-size="6.4" dy="-3.4">2</tspan><tspan dy="3.4">&lt; 0.15</tspan></text>
<text x="195.30" y="239.50" font-size="16" text-anchor="middle" font-weight="bold" class="serif">(a)</text>
<text x="541.10" y="239.50" font-size="16" text-anchor="middle" font-weight="bold" class="serif">(b)</text>
</svg>
</body></html>
